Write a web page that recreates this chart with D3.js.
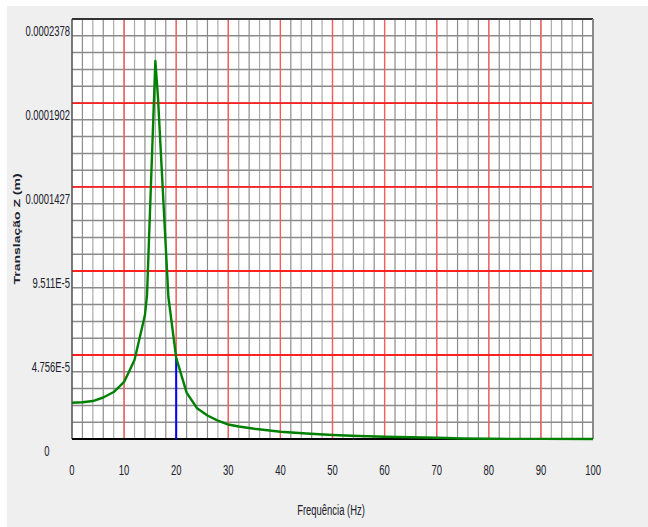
<!DOCTYPE html>
<html>
<head>
<meta charset="utf-8">
<script src="https://cdn.jsdelivr.net/npm/d3@7"></script>
<style>
  html, body { margin: 0; padding: 0; background: #ffffff; }
  svg { display: block; }
  text { font-family: "Liberation Sans", Arial, sans-serif; fill: #20202c; }
</style>
</head>
<body>
<script>
// ---- data ----
const frequencies = [0, 2, 4, 6, 8, 10, 12, 14, 14.4, 16, 16.5, 18.5, 20, 22, 24, 26, 28, 30, 32, 35, 40, 45, 50, 55, 60, 70, 75, 80, 90, 100];
const translationZ = [2.055e-5, 2.08e-5, 2.15e-5, 2.35e-5, 2.66e-5, 3.23e-5, 4.47e-5, 7.02e-5, 8.15e-5, 2.140e-4, 1.936e-4, 8.04e-5, 4.59e-5, 2.63e-5, 1.74e-5, 1.33e-5, 1.04e-5, 8.2e-6, 7.1e-6, 5.8e-6, 4.1e-6, 3.1e-6, 2.3e-6, 1.7e-6, 1.25e-6, 6.8e-7, 2.8e-7, 1.2e-7, 6e-8, 3e-8];
const xTickValues = [0, 10, 20, 30, 40, 50, 60, 70, 80, 90, 100];
const yTickValues = [0, 4.756e-5, 9.511e-5, 1.427e-4, 1.902e-4, 2.378e-4];
const yTickLabels = ["0", "4.756E-5", "9.511E-5", "0.0001427", "0.0001902", "0.0002378"];
const markerFrequency = [20];
const xTitle = "Frequência (Hz)";
const yTitle = "Translação Z (m)";

(function () {
// ---- layout ----
const W = 648, H = 527;
const pL = 72, pR = 593, pT = 19, pB = 439;
const yMax = 2.378e-4;
const sx = 0.63;

const svg = d3.select("body").append("svg").attr("width", W).attr("height", H);
svg.append("rect").attr("x", 7).attr("y", 6).attr("width", W - 7).attr("height", H - 6).attr("fill", "#efefef");
svg.append("rect").attr("x", pL).attr("y", pT).attr("width", pR - pL).attr("height", pB - pT).attr("fill", "#ffffff");

const x = d3.scaleLinear().domain([0, 100]).range([pL, pR]);
const y = d3.scaleLinear().domain([0, yMax]).range([pB, pT]);

// minor grid
const grid = svg.append("g");
grid.selectAll(".vmin").data(d3.range(0, 101, 2)).join("line")
  .attr("x1", d => x(d)).attr("x2", d => x(d)).attr("y1", pT).attr("y2", pB)
  .attr("stroke", (d, i) => i % 2 ? "#8c8c8c" : "#ababab").attr("stroke-width", 1.2);
grid.selectAll(".hmin").data(d3.range(0, 26).map(i => yMax * i / 25)).join("line")
  .attr("x1", pL).attr("x2", pR).attr("y1", d => y(d)).attr("y2", d => y(d))
  .attr("stroke", "#8a8a8a").attr("stroke-width", 1.5);
// major (red) grid
grid.selectAll(".vmaj").data(xTickValues.slice(1, -1)).join("line")
  .attr("x1", d => x(d)).attr("x2", d => x(d)).attr("y1", pT).attr("y2", pB)
  .attr("stroke", "#ff5a5a").attr("stroke-width", 1.3);
grid.selectAll(".hmaj").data(yTickValues.slice(1, -1)).join("line")
  .attr("x1", pL).attr("x2", pR).attr("y1", d => y(d)).attr("y2", d => y(d))
  .attr("stroke", "#ff2020").attr("stroke-width", 1.8);

// frame
svg.append("line").attr("x1", pL).attr("x2", pR).attr("y1", pT).attr("y2", pT).attr("stroke", "#333").attr("stroke-width", 2.2);
svg.append("line").attr("x1", pL).attr("x2", pL).attr("y1", pT).attr("y2", pB).attr("stroke", "#444").attr("stroke-width", 1.2);
svg.append("line").attr("x1", pR).attr("x2", pR).attr("y1", pT).attr("y2", pB).attr("stroke", "#8a8a8a").attr("stroke-width", 2);
svg.append("line").attr("x1", pL).attr("x2", pR).attr("y1", pB).attr("y2", pB).attr("stroke", "#000").attr("stroke-width", 2);

// marker line
const interp = f => {
  const i = d3.bisectLeft(frequencies, f);
  if (frequencies[i] === f) return translationZ[i];
  const t = (f - frequencies[i - 1]) / (frequencies[i] - frequencies[i - 1]);
  return translationZ[i - 1] + t * (translationZ[i] - translationZ[i - 1]);
};
svg.selectAll(".marker").data(markerFrequency).join("line")
  .attr("x1", d => x(d)).attr("x2", d => x(d)).attr("y1", d => y(interp(d))).attr("y2", pB)
  .attr("stroke", "#0000ff").attr("stroke-width", 2);

// curve
const pts = frequencies.map((f, i) => [f, translationZ[i]]);
svg.append("path").datum(pts)
  .attr("d", d3.line().x(d => x(d[0])).y(d => y(d[1])))
  .attr("fill", "none").attr("stroke", "#008000").attr("stroke-width", 2.4).attr("stroke-linejoin", "round");

// tick labels
const fs = 15;
svg.selectAll(".xl").data(xTickValues).join("text")
  .attr("transform", d => `translate(${x(d)},${470}) scale(${sx},1)`)
  .attr("text-anchor", "middle").attr("dominant-baseline", "central")
  .attr("font-size", fs).text(d => d);
svg.selectAll(".yl").data(yTickValues).join("text")
  .attr("transform", d => d === 0 ? `translate(47,${y(d) + 12}) scale(${sx},1)` : `translate(70,${y(d) + 12.5}) scale(${sx},1)`)
  .attr("text-anchor", d => d === 0 ? "middle" : "end").attr("dominant-baseline", "central")
  .attr("font-size", fs).text((d, i) => yTickLabels[i]);

// titles
svg.append("text").attr("transform", `translate(331,510) scale(${sx},1)`)
  .attr("text-anchor", "middle").attr("dominant-baseline", "central").attr("font-size", fs).text(xTitle);
svg.append("text").attr("transform", `translate(16.5,229) rotate(-90) scale(1,${sx})`)
  .attr("text-anchor", "middle").attr("dominant-baseline", "central").attr("font-size", 14)
  .attr("font-weight", "bold").text(yTitle);
})();
</script>
</body>
</html>
